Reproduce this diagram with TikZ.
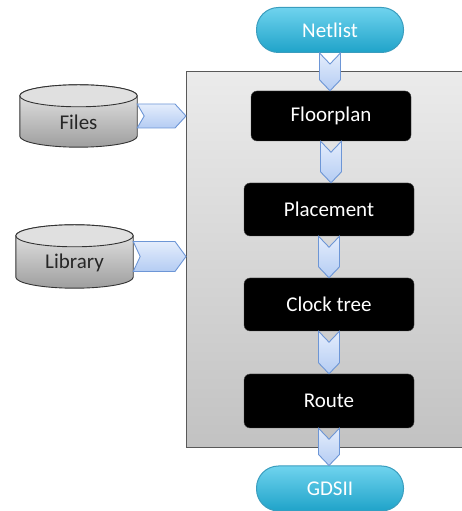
\documentclass[tikz,border=0pt]{standalone}
\usepackage{fontspec}
\setmainfont{Carlito}
\usetikzlibrary{calc}
\definecolor{pilltop}{HTML}{6FD3EE}
\definecolor{pillbot}{HTML}{1FA3C9}
\definecolor{pillline}{HTML}{3A9DBE}
\definecolor{chevtop}{HTML}{E4EDFC}
\definecolor{chevbot}{HTML}{B4CCF3}
\definecolor{chevline}{HTML}{6D96D6}
\definecolor{boxtop}{HTML}{EBEBEB}
\definecolor{boxbot}{HTML}{C2C2C2}
\tikzset{
  x=1pt, y=1pt,
  txt/.style={font=\fontsize{21}{25}\selectfont},
  pill/.style={txt, text=white, shape=rectangle, rounded corners=22pt, draw=pillline, line width=1pt,
    top color=pilltop, bottom color=pillbot, minimum width=147pt, minimum height=45pt},
  stepbox/.style={txt, text=white, fill=black, draw=black!70, rounded corners=6pt,
    minimum width=170pt, minimum height=53pt},
  chev/.style={draw=chevline, line width=0.9pt, top color=chevtop, bottom color=chevbot, line join=miter},
  outerbox/.style={draw=black!65, line width=1.4pt, top color=boxtop, bottom color=boxbot},
  cylbox/.style={shape=rectangle, minimum width=117pt, minimum height=62pt, inner sep=0pt},
  cylbody/.style={draw=black!80, line width=0.9pt, top color=black!8, bottom color=black!38},
  cyltop/.style={draw=black!80, line width=0.9pt, fill=black!12},
  cyltext/.style={txt, text=black!85},
}
\newcommand\vchev[2]{\path[chev] let \p1=(#1.south), \p2=(#2.north) in
  (\x1-10.5pt,\y1) -- (\x1,\y1-11pt) -- (\x1+10.5pt,\y1) -- (\x1+10.5pt,\y2+11pt)
  -- (\x1,\y2) -- (\x1-10.5pt,\y2+11pt) -- cycle;}
\newcommand\hchev[3]{\path[chev] let \p1=(#1.east), \p2=(#2.west) in
  (\x1,\y1+#3) -- (\x2-11pt,\y1+#3) -- (\x2,\y1) -- (\x2-11pt,\y1-#3)
  -- (\x1,\y1-#3) -- (\x1+7pt,\y1) -- cycle;}
\newcommand\cylshape[1]{%
  \path[cylbody] let \p1=(#1.north west), \p2=(#1.south east), \n1={(\x2-\x1)/2} in
    (\x1,\y1-11pt) -- (\x1,\y2+11pt) arc[start angle=180,end angle=360,x radius=\n1,y radius=11pt]
    -- (\x2,\y1-11pt) arc[start angle=0,end angle=180,x radius=\n1,y radius=11pt] -- cycle;
  \path[cyltop] let \p1=(#1.north west), \p2=(#1.south east), \n1={(\x2-\x1)/2} in
    ({(\x1+\x2)/2},\y1-11pt) ellipse[x radius=\n1, y radius=11pt];}
\begin{document}
\begin{tikzpicture}
\useasboundingbox (0,0) rectangle (462,511);
% outer grey area
\node[outerbox, shape=rectangle, minimum width=310pt, minimum height=376pt, anchor=north west, inner sep=0pt] (box) at (186,440) {};
% inputs / outputs
\node[pill] (netlist) at (330,481) {Netlist};
\node[pill] (gds) at (330,22.5) {GDSII};
% steps
\node[stepbox, minimum width=160pt, minimum height=50pt] (floor) at (331,395) {Floorplan};
\node[stepbox] (place) at (329,301.5) {Placement};
\node[stepbox] (clock) at (329,206.5) {Clock tree};
\node[stepbox, minimum height=54pt] (route) at (329,110) {Route};
% cylinders
\node[cylbox] (files) at (78.5,395) {};
\node[cylbox, minimum height=63pt] (lib) at (74.5,254.5) {};
\cylshape{files}
\cylshape{lib}
\node[cyltext] (filest) at ([yshift=-6pt]files.center) {Files};
\node[cyltext] (libt) at ([yshift=-6pt]lib.center) {Library};
% chevrons
\vchev{netlist}{floor}
\vchev{floor}{place}
\vchev{place}{clock}
\vchev{clock}{route}
\vchev{route}{gds}
\hchev{files}{box}{12pt}
\hchev{lib}{box}{15pt}
\end{tikzpicture}
\end{document}
